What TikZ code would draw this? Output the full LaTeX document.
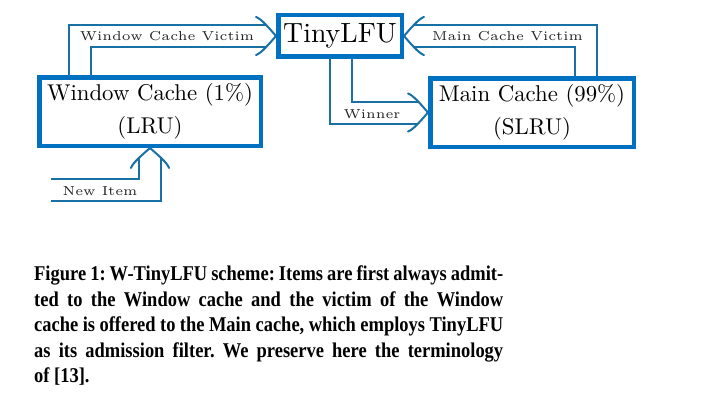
\documentclass[tikz,border=0pt]{standalone}
\usepackage{fontspec}
\newfontfamily\capfont[FakeStretch=0.88]{Liberation Serif}
\usetikzlibrary{arrows.meta,backgrounds}
\definecolor{boxblue}{RGB}{0,112,192}
\definecolor{arrblue}{RGB}{25,112,165}
\tikzset{
  cbox/.style={draw=boxblue, line width=4.5pt, fill=white, align=center, inner sep=0pt},
  arr/.style={draw=arrblue, line width=2pt, double=white, double distance=20pt, shorten >=10pt},
  headst/.style={draw=arrblue, line width=2pt, line cap=round},
  lbl/.style={inner sep=0pt, text=black!85, font=\lblfont},
}
\newcommand{\lblfont}{\fontsize{5}{6}\selectfont}
\newcommand{\lbltext}[1]{\scalebox{2.6}{#1}}
\newcommand{\boxtext}[2]{\raisebox{-3pt}{\scalebox{2.28}{\fontsize{10}{12}\selectfont\begin{tabular}{@{}c@{}}#1\\[2.2pt]#2\end{tabular}}}}
% chevron head: tip at #1, pointing in direction #2 (degrees)
\newcommand{\chev}[2]{\draw[headst, shift={(#1)}, rotate=#2] (-20,19) .. controls (-15,17.5) and (-7,8) .. (0,0) .. controls (-7,-8) and (-15,-17.5) .. (-20,-19);}
\begin{document}
\begin{tikzpicture}[x=1pt,y=1pt]
\useasboundingbox (0,0) rectangle (701,-412);
\node[cbox, minimum width=123.5pt, minimum height=41.5pt] (tiny) at (340,-36) {\scalebox{2.78}{\fontsize{10}{12}\selectfont TinyLFU}};
\node[cbox, minimum width=221.5pt, minimum height=68.5pt] (win) at (150,-111.5) {\boxtext{Window Cache (1\%)}{(LRU)}};
\node[cbox, minimum width=203.5pt, minimum height=68.5pt] (main) at (532,-112.5) {\boxtext{Main Cache (99\%)}{(SLRU)}};
\coordinate (wcvx) at (80,0);
\coordinate (mcvx) at (585.5,0);
\coordinate (winx) at (341,0);
\coordinate (nistart) at (51,-190);
\begin{scope}[on background layer]
\draw[arr] (win.north -| wcvx) |- (tiny.west);
\draw[arr] (main.north -| mcvx) |- (tiny.east);
\draw[arr] (tiny.south -| winx) |- (main.west);
\draw[arr] (nistart) -| (win.south);
\chev{tiny.west}{0}
\chev{tiny.east}{180}
\chev{main.west}{0}
\chev{win.south}{90}
\end{scope}
\node[lbl] (l1) at (167,-36.5) {\lbltext{Window Cache Victim}};
\node[lbl] (l2) at (507.5,-36.5) {\lbltext{Main Cache Victim}};
\node[lbl] (l3) at (372,-114) {\lbltext{Winner}};
\node[lbl] (l4) at (100,-191) {\lbltext{New Item}};
\node[anchor=north west, inner sep=0pt, text width=469pt, align=justify, font=\capfont\bfseries\fontsize{21}{25.5}\selectfont\frenchspacing] (cap) at (34,-266)
{Figure 1: W-TinyLFU scheme: Items are first always admit-\linebreak ted to the Window cache and the victim of the Window\linebreak cache is offered to the Main cache, which employs TinyLFU\linebreak as its admission filter. We preserve here the terminology\linebreak of [13].};
\end{tikzpicture}
\end{document}
